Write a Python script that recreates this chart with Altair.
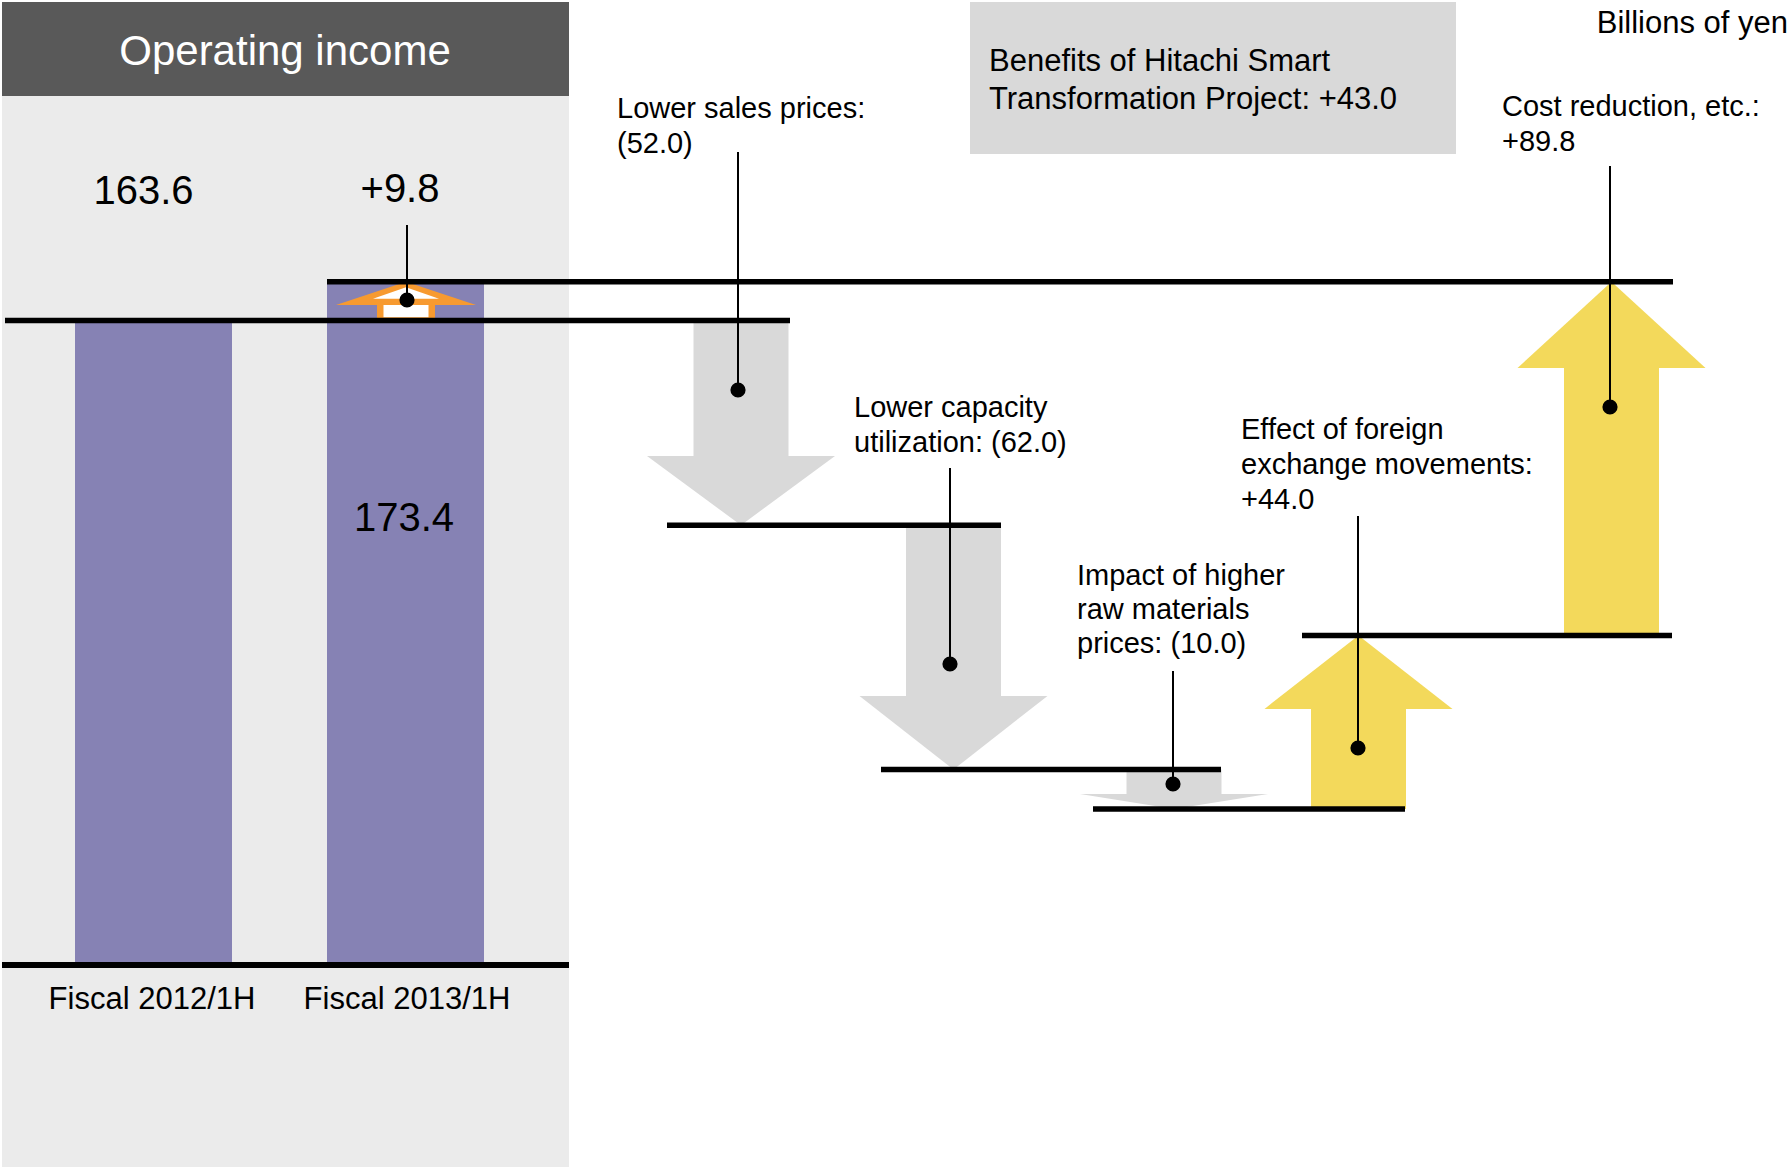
import altair as alt
import pandas as pd

# ---------------- data ----------------
periods = ["Fiscal 2012/1H", "Fiscal 2013/1H"]
period_values = [163.6, 173.4]

factor_name_lines = [
    ["Lower sales prices:", ""],
    ["Lower capacity", "utilization:"],
    ["Impact of higher", "raw materials", "prices:"],
    ["Effect of foreign", "exchange movements:", ""],
    ["Cost reduction, etc.:", ""],
]
factor_deltas = [-52.0, -62.0, -10.0, 44.0, 89.8]

header_title = "Operating income"
unit_label = "Billions of yen"
benefit_lines = ["Benefits of Hitachi Smart", "Transformation Project:"]
benefit_value = 43.0

# ---------------- layout ----------------
W, H = 1791, 1168
BASE_PX = 965
PX_PER_UNIT = 3.94
Y0 = (BASE_PX - H) / PX_PER_UNIT
Y1 = BASE_PX / PX_PER_UNIT

def v(py):
    return (BASE_PX - py) / PX_PER_UNIT

PANEL = "#EBEBEB"
HEADER = "#595959"
BOX = "#D9D9D9"
BAR = "#8682B4"
DOWN = "#D9D9D9"
UP = "#F3D95B"
ORANGE = "#F79A30"
FONT = "Liberation Sans"

bar_x = [(75, 232), (327, 484)]
arrow_cx = [741, 953.5, 1174, 1358.5, 1611.5]
head_depth = [17.6, 18.7, 3.8, 18.6, 21.9]   # arrow-head depth (style, in axis units)
SHAFT_HALF, HEAD_HALF = 47.5, 94
level_line_x = [(5, 790), (667, 1001), (881, 1221), (1093, 1405), (1302, 1672), (327, 1673)]
label_pos = [(617, 118, 35), (854, 417, 35), (1077, 585, 34), (1241, 439, 35), (1502, 116, 35)]
leader_x = [738, 950, 1173, 1358, 1610]
leader_top = [152, 468, 671, 516, 166]
dot_py = [390, 664, 784, 748, 407]

# ---------------- derived ----------------
levels = [period_values[0]]
for d in factor_deltas:
    levels.append(round(levels[-1] + d, 1))
change = round(period_values[1] - period_values[0], 1)


def fmt(d):
    return f"({abs(d):.1f})" if d < 0 else f"+{d:.1f}"


def arrow(cx, s, e, shaft_half, head_half, depth, color, key):
    dr = 1 if e > s else -1
    sh = e - dr * depth
    shaft = dict(x=cx - shaft_half, x2=cx + shaft_half, y=s, y2=sh + dr * 0.3 * depth, c=color)
    head = [
        dict(k=key, x=cx - head_half, y=sh, y2=sh, c=color),
        dict(k=key, x=cx, y=sh, y2=e, c=color),
        dict(k=key, x=cx + head_half, y=sh, y2=sh, c=color),
    ]
    return shaft, head

shafts, heads = [], []
for i, d in enumerate(factor_deltas):
    sft, hd = arrow(arrow_cx[i], levels[i], levels[i + 1], SHAFT_HALF, HEAD_HALF, head_depth[i],
                    DOWN if d < 0 else UP, f"a{i}")
    shafts.append(sft)
    heads += hd

# small orange outlined arrow for the total change
ocx = 406
s0, e0 = period_values[0], period_values[1]
sft, hd = arrow(ocx, s0, e0, 29, 70, 0.6 * change, ORANGE, "o_out")
shafts.append(sft); heads += hd
sft, hd = arrow(ocx, s0 + 0.08 * change, e0 - 0.14 * change, 22.5, 33, 0.3 * change, "#FFFFFF", "o_in")
shafts.append(sft); heads += hd

rects = pd.DataFrame([
    dict(x=2, x2=569, y=v(96), y2=v(1167), c=PANEL),
    dict(x=2, x2=569, y=v(2), y2=v(96), c=HEADER),
    dict(x=970, x2=1456, y=v(2), y2=v(154), c=BOX),
])
bars_df = pd.DataFrame([dict(x=bar_x[i][0], x2=bar_x[i][1], y=0, y2=period_values[i], c=BAR)
                        for i in range(2)])
shaft_df = pd.DataFrame(shafts)
head_df = pd.DataFrame(heads)

line_df = pd.DataFrame([dict(x=level_line_x[i][0], x2=level_line_x[i][1], y=levels[i])
                        for i in range(len(levels))])
base_df = pd.DataFrame([dict(x=2, x2=569, y=0)])

leader_rows = [dict(x=leader_x[i], y=v(leader_top[i]), y2=v(dot_py[i])) for i in range(5)]
leader_rows.append(dict(x=407, y=v(225), y2=v(300)))
leader_df = pd.DataFrame(leader_rows)
dot_rows = [dict(x=leader_x[i], y=v(dot_py[i])) for i in range(5)]
dot_rows.append(dict(x=407, y=v(300)))
dot_df = pd.DataFrame(dot_rows)

# texts
left_t, center_t, right_t = [], [], []
for i, names in enumerate(factor_name_lines):
    lines = list(names)
    lines[-1] = (lines[-1] + " " + fmt(factor_deltas[i])).strip()
    lx, by, sp = label_pos[i]
    for j, t in enumerate(lines):
        left_t.append(dict(x=lx, y=v(by + j * sp), t=t, s=29, c="black"))
blines = list(benefit_lines)
blines[-1] = blines[-1] + " " + fmt(benefit_value)
for j, t in enumerate(blines):
    left_t.append(dict(x=989, y=v(71 + j * 38), t=t, s=31, c="black"))

center_t.append(dict(x=285, y=v(65), t=header_title, s=42, c="white"))
center_t.append(dict(x=143.5, y=v(204), t=f"{period_values[0]:.1f}", s=40, c="black"))
center_t.append(dict(x=400, y=v(202), t=fmt(change), s=40, c="black"))
center_t.append(dict(x=404, y=v(531), t=f"{period_values[1]:.1f}", s=40, c="black"))
for i, p in enumerate(periods):
    center_t.append(dict(x=[152, 407][i], y=v(1009), t=p, s=31, c="black"))
right_t.append(dict(x=1788, y=v(33), t=unit_label, s=31, c="black"))

# ---------------- chart ----------------
xs = alt.Scale(domain=[0, W], nice=False, zero=False)
ys = alt.Scale(domain=[Y0, Y1], nice=False, zero=False)

def X(f):
    return alt.X(f"{f}:Q", scale=xs, axis=None)

def Y(f):
    return alt.Y(f"{f}:Q", scale=ys, axis=None)

col = alt.Color("c:N", scale=None, legend=None)

bg = alt.Chart(rects).mark_rect().encode(x=X("x"), x2="x2", y=Y("y"), y2="y2", color=col)
bars = alt.Chart(bars_df).mark_rect().encode(x=X("x"), x2="x2", y=Y("y"), y2="y2", color=col)
shaft_l = alt.Chart(shaft_df).mark_rect().encode(x=X("x"), x2="x2", y=Y("y"), y2="y2", color=col)
head_l = alt.Chart(head_df).mark_area(opacity=1).encode(
    x=X("x"), y=Y("y"), y2="y2", detail="k:N", color=col)
lines_l = alt.Chart(line_df).mark_rule(color="black", strokeWidth=5.5, strokeCap="butt").encode(
    x=X("x"), x2="x2", y=Y("y"))
base_l = alt.Chart(base_df).mark_rule(color="black", strokeWidth=6, strokeCap="butt").encode(
    x=X("x"), x2="x2", y=Y("y"))
leader_l = alt.Chart(leader_df).mark_rule(color="black", strokeWidth=2).encode(
    x=X("x"), y=Y("y"), y2="y2")
dot_l = alt.Chart(dot_df).mark_point(shape="circle", filled=True, size=230, opacity=1,
                                     color="black").encode(x=X("x"), y=Y("y"))

def text_layer(rows, align):
    return alt.Chart(pd.DataFrame(rows)).mark_text(
        align=align, baseline="alphabetic", font=FONT
    ).encode(x=X("x"), y=Y("y"), text="t:N",
             size=alt.Size("s:Q", scale=None, legend=None), color=col)

chart = alt.layer(
    bg, bars, shaft_l, head_l, lines_l, base_l, leader_l, dot_l,
    text_layer(left_t, "left"), text_layer(center_t, "center"), text_layer(right_t, "right"),
).properties(
    width=W, height=H, padding=0,
    autosize=alt.AutoSizeParams(type="none"),
    background="white",
).configure_view(stroke=None)

chart.save("out.html", embed_options={"renderer": "svg", "actions": False})
